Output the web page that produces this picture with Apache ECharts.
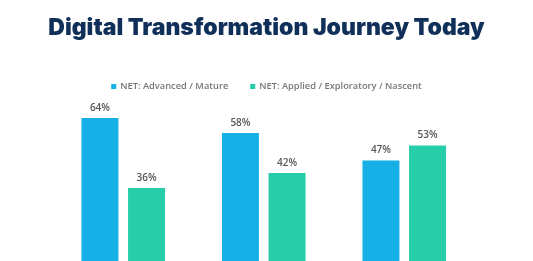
<!DOCTYPE html>
<html>
<head>
<meta charset="utf-8">
<script src="https://cdn.jsdelivr.net/npm/echarts@6/dist/echarts.min.js"></script>
<style>
html,body{margin:0;padding:0;background:#fff;}
#chart{width:533px;height:261px;}
</style>
</head>
<body>
<div id="chart"></div>
<script>
var titleText = "Digital Transformation Journey Today";
var categories = ["Group A", "Group B", "Group C"];
var seriesNames = ["NET: Advanced / Mature", "NET: Applied / Exploratory / Nascent"];
var advancedValues = [64, 58, 47];
var appliedValues = [36, 42, 53];

var chart = echarts.init(document.getElementById('chart'), null, {renderer: 'canvas'});
var labelStyle = {
  show: true,
  position: 'top',
  distance: 5,
  formatter: '{c}%',
  color: '#555555',
  fontSize: 10,
  fontWeight: 600,
  fontFamily: 'Open Sans'
};
chart.setOption({
  animation: false,
  backgroundColor: '#ffffff',
  title: {
    text: titleText,
    left: 'center',
    top: 12,
    textStyle: {
      fontFamily: 'Inter',
      fontWeight: 900,
      fontSize: 23,
      color: '#10305a'
    }
  },
  legend: {
    data: seriesNames,
    top: 77,
    left: 'center',
    itemWidth: 5,
    itemHeight: 5,
    itemGap: 22,
    icon: 'rect',
    textStyle: {
      fontFamily: 'Open Sans',
      fontSize: 9.3,
      fontWeight: 600,
      color: '#777777',
      padding: [0, 0, 0, -1]
    }
  },
  grid: {
    left: 53,
    width: 421.5,
    top: 28,
    bottom: 0,
    containLabel: false
  },
  xAxis: {
    type: 'category',
    data: categories,
    axisLine: {show: false},
    axisTick: {show: false},
    axisLabel: {show: false}
  },
  yAxis: {
    type: 'value',
    min: 6.8,
    max: 100,
    show: false,
    splitLine: {show: false}
  },
  series: [
    {
      name: seriesNames[0],
      type: 'bar',
      data: advancedValues,
      barWidth: 37,
      barGap: '26%',
      itemStyle: {color: '#17b0e6'},
      label: labelStyle
    },
    {
      name: seriesNames[1],
      type: 'bar',
      data: appliedValues,
      barWidth: 37,
      itemStyle: {color: '#27cca8'},
      label: labelStyle
    }
  ]
});
</script>
</body>
</html>
